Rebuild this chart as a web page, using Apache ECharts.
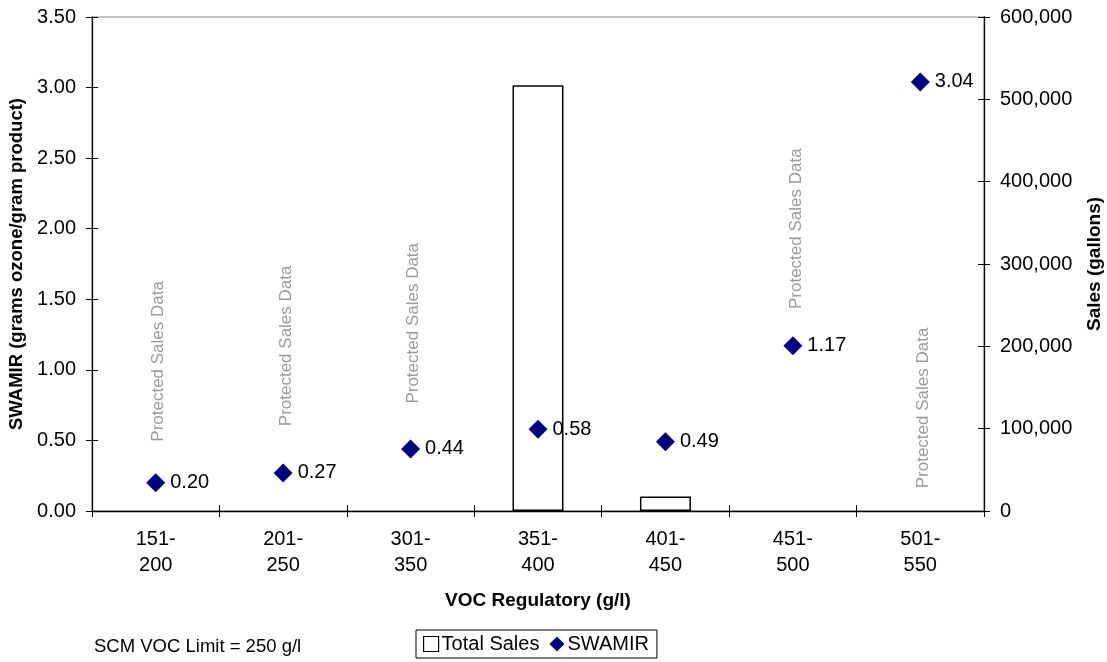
<!DOCTYPE html>
<html><head><meta charset="utf-8">
<script src="https://cdn.jsdelivr.net/npm/echarts@6/dist/echarts.min.js"></script>
<style>html,body{margin:0;padding:0;background:#fff}#c{width:1107px;height:662px}</style>
</head><body><div id="c"></div>
<script>
var categories = ['151-200','201-250','301-350','351-400','401-450','451-500','501-550'];
var swamir = [0.20, 0.27, 0.44, 0.58, 0.49, 1.17, 3.04];
var totalSales = [null, null, null, 517000, 17500, null, null];
var protectedLabelY = [1.06, 1.17, 1.33, null, null, 2.0, 0.73];
var leftTicks = {min: 0, max: 3.5, interval: 0.5};
var rightTicks = {min: 0, max: 600000, interval: 100000};

var F = 'Liberation Sans, Arial, sans-serif';
var chart = echarts.init(document.getElementById('c'));
var axisLine = {show: true, lineStyle: {color: '#000', width: 1.3}};
chart.setOption({
  animation: false,
  grid: {left: 92, right: 123, top: 17, bottom: 151, show: true, borderColor: '#888', borderWidth: 1,
         outerBoundsMode: 'none', containLabel: false},
  legend: {
    left: 416, top: 630,
    borderColor: '#000', borderWidth: 1, padding: [4, 8, 4, 7], itemGap: 10,
    itemWidth: 15, itemHeight: 15,
    textStyle: {fontFamily: F, fontSize: 20, color: '#000', padding: [0, 0, 0, -2]},
    data: [
      {name: 'Total Sales', icon: 'path://M1,1L13,1L13,13L1,13Z', itemStyle: {color: '#fff', borderColor: '#000', borderWidth: 1.2}},
      {name: 'SWAMIR', icon: 'diamond', itemStyle: {color: '#000080', borderWidth: 0}}
    ]
  },
  graphic: [{type: 'text', left: 94, top: 637, style: {text: 'SCM VOC Limit = 250 g/l', font: '18.5px Liberation Sans, Arial', fill: '#000'}}],
  xAxis: [{
    type: 'category', data: categories, boundaryGap: true,
    axisLine: axisLine,
    axisTick: {show: true, inside: false, length: 6, lineStyle: {color: '#000'}},
    axisLabel: {fontFamily: F, fontSize: 20, color: '#000', lineHeight: 26, margin: 15,
      formatter: function (v) { return v.replace('-', '-\n'); }},
    name: 'VOC Regulatory (g/l)', nameLocation: 'middle', nameGap: 80,
    nameTextStyle: {fontFamily: F, fontSize: 19, fontWeight: 'bold', color: '#000'}
  }, {
    type: 'category', data: categories, boundaryGap: true, position: 'bottom',
    axisLine: {show: false}, axisTick: {show: true, inside: true, length: 6, lineStyle: {color: '#000'}},
    axisLabel: {show: false}
  }],
  yAxis: [{
    type: 'value', position: 'left', min: leftTicks.min, max: leftTicks.max, interval: leftTicks.interval,
    splitLine: {show: false}, axisLine: axisLine,
    axisTick: {show: true, length: 6, lineStyle: {color: '#000'}},
    axisLabel: {fontFamily: F, fontSize: 20, color: '#000', margin: 16, formatter: function (v) { return v.toFixed(2); }},
    name: 'SWAMIR (grams ozone/gram product)', nameLocation: 'middle', nameGap: 64, nameRotate: 90,
    nameTextStyle: {fontFamily: F, fontSize: 18.5, fontWeight: 'bold', color: '#000'}
  }, {
    type: 'value', position: 'right', min: rightTicks.min, max: rightTicks.max, interval: rightTicks.interval,
    splitLine: {show: false}, axisLine: axisLine,
    axisTick: {show: true, length: 6, lineStyle: {color: '#000'}},
    axisLabel: {fontFamily: F, fontSize: 20, color: '#000', margin: 16,
      formatter: function (v) { return v.toLocaleString('en-US'); }},
    name: 'Sales (gallons)', nameLocation: 'middle', nameGap: 101, nameRotate: 90,
    nameTextStyle: {fontFamily: F, fontSize: 19, fontWeight: 'bold', color: '#000'}
  }, {
    type: 'value', position: 'left', min: leftTicks.min, max: leftTicks.max, interval: leftTicks.interval,
    splitLine: {show: false}, axisLine: {show: false}, axisLabel: {show: false},
    axisTick: {show: true, inside: true, length: 6, lineStyle: {color: '#000'}}
  }, {
    type: 'value', position: 'right', min: rightTicks.min, max: rightTicks.max, interval: rightTicks.interval,
    splitLine: {show: false}, axisLine: {show: false}, axisLabel: {show: false},
    axisTick: {show: true, inside: true, length: 6, lineStyle: {color: '#000'}}
  }],
  series: [{
    name: 'Total Sales', type: 'bar', yAxisIndex: 1, data: totalSales, barWidth: '40%',
    itemStyle: {color: '#fff', borderColor: '#000', borderWidth: 1.5}
  }, {
    name: 'Protected', type: 'scatter', yAxisIndex: 0, data: protectedLabelY, symbolSize: 0, silent: true,
    itemStyle: {opacity: 1},
    label: {show: true, position: 'inside', rotate: 90, offset: [0, 3], formatter: 'Protected Sales Data',
      fontFamily: F, fontSize: 17, color: '#9a9a9a'}
  }, {
    name: 'SWAMIR', type: 'scatter', yAxisIndex: 0, data: swamir, symbol: 'diamond', symbolSize: 19,
    itemStyle: {color: '#000080', opacity: 1},
    label: {show: true, position: 'right', distance: 5, fontFamily: F, fontSize: 20, color: '#000',
      formatter: function (p) { return p.value.toFixed(2); }}
  }]
});
</script></body></html>
